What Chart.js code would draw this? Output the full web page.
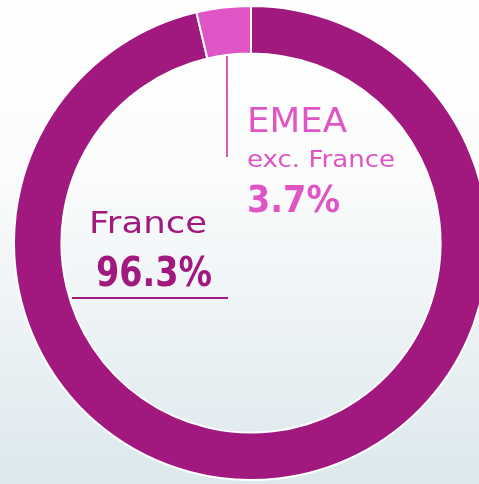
<!DOCTYPE html>
<html>
<head>
<meta charset="utf-8">
<script src="https://cdn.jsdelivr.net/npm/chart.js@4"></script>
<style>
  html, body { margin: 0; padding: 0; width: 479px; height: 484px; overflow: hidden; }
  body { background: linear-gradient(to bottom, #ffffff 0%, #fbfcfc 35%, #e9f0f3 75%, #dce8ed 100%); }
  #wrap { position: absolute; left: 0; top: 0; width: 504px; height: 484px; }
</style>
</head>
<body>
<div id="wrap"><canvas id="chart1"></canvas></div>
<script>
  const regions = ['France', 'EMEA exc. France'];
  const shares = [96.3, 3.7];
  const colours = ['#a1197e', '#e055c6'];

  const purple = colours[0];
  const pink = colours[1];

  // label text drawn with a horizontal squeeze so it fills the same width as the original
  function fitText(c, text, x, y, w, font, colour) {
    c.save();
    c.font = font;
    c.fillStyle = colour;
    c.textBaseline = 'alphabetic';
    const m = c.measureText(text).width;
    c.translate(x, y);
    c.scale(w / m, 1);
    c.fillText(text, 0, 0);
    c.restore();
  }

  const labelsPlugin = {
    id: 'labels',
    afterDraw(chart) {
      const c = chart.ctx;
      // leader lines
      c.save();
      c.lineWidth = 2;
      c.strokeStyle = pink;
      c.beginPath();
      c.moveTo(227, 56);
      c.lineTo(227, 157);
      c.stroke();
      c.strokeStyle = purple;
      c.beginPath();
      c.moveTo(72, 298);
      c.lineTo(228, 298);
      c.stroke();
      c.restore();

      fitText(c, regions[0], 89, 233, 118, '30px "DejaVu Sans"', purple);
      fitText(c, shares[0].toFixed(1) + '%', 96, 286, 116, 'bold 40px "DejaVu Sans"', purple);

      const parts = regions[1].split(' exc. ');
      fitText(c, parts[0], 247, 132, 100, '34px "DejaVu Sans"', pink);
      fitText(c, 'exc. ' + parts[1], 247, 167, 148, '23px "DejaVu Sans"', pink);
      fitText(c, shares[1].toFixed(1) + '%', 247, 212, 93, 'bold 37px "DejaVu Sans"', pink);
    }
  };

  const ctx = document.getElementById('chart1').getContext('2d');

  new Chart(ctx, {
    type: 'doughnut',
    data: {
      labels: regions,
      datasets: [{
        data: shares,
        backgroundColor: colours,
        borderColor: '#ffffff',
        borderWidth: 2
      }]
    },
    options: {
      responsive: true,
      maintainAspectRatio: false,
      animation: false,
      cutout: '80%',
      layout: {
        padding: { left: 13, right: 15, top: 5, bottom: 3 }
      },
      plugins: {
        legend: { display: false },
        tooltip: { enabled: false }
      }
    },
    plugins: [labelsPlugin]
  });
</script>
</body>
</html>
